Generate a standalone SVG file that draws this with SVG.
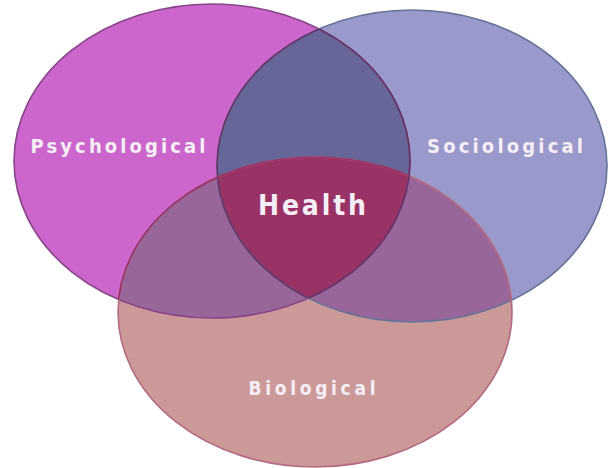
<svg xmlns="http://www.w3.org/2000/svg" width="610" height="468" viewBox="0 0 610 468">
<style>
.lbl{font-family:"DejaVu Sans Condensed","DejaVu Sans","Verdana",sans-serif;font-weight:bold;fill:#F6EEF6;text-anchor:middle}
.edge{fill:none;stroke-width:1.6}
</style>
<defs>
<ellipse id="eP" cx="212" cy="161" rx="198" ry="157"/>
<ellipse id="eS" cx="412" cy="166" rx="195" ry="156"/>
<ellipse id="eB" cx="315" cy="312" rx="197" ry="155"/>
<clipPath id="cP"><use href="#eP"/></clipPath>
<clipPath id="cS"><use href="#eS"/></clipPath>
</defs>
<rect width="610" height="468" fill="#ffffff"/>
<g id="psychological">
<use href="#eP" fill="#CC66CC"/>
</g>
<g id="sociological">
<use href="#eS" fill="#9999CC"/>
</g>
<g id="biological">
<use href="#eB" fill="#CC9999"/>
</g>
<g id="overlaps">
<use href="#eS" fill="#666699" clip-path="url(#cP)"/>
<use href="#eB" fill="#996699" clip-path="url(#cP)"/>
<use href="#eB" fill="#996699" clip-path="url(#cS)"/>
<g clip-path="url(#cP)"><use href="#eB" fill="#993366" clip-path="url(#cS)"/></g>
</g>
<g id="connectors">
<use href="#eP" class="edge" stroke="#884488"/>
<use href="#eS" class="edge" stroke="#667399"/>
<use href="#eB" class="edge" stroke="#B46A80"/>
<g clip-path="url(#cS)"><use href="#eP" class="edge" stroke="#663366"/></g>
<g clip-path="url(#cP)"><use href="#eS" class="edge" stroke="#663366"/></g>
<g clip-path="url(#cP)"><use href="#eB" class="edge" stroke="#993366"/></g>
</g>
<g id="labels">
<text class="lbl" x="118" y="153" font-size="20" textLength="175" lengthAdjust="spacing">Psychological</text>
<text class="lbl" x="505" y="153" font-size="20" textLength="156" lengthAdjust="spacing">Sociological</text>
<text class="lbl" x="312" y="215" font-size="28" textLength="108" lengthAdjust="spacing">Health</text>
<text class="lbl" x="312" y="395" font-size="19" textLength="127" lengthAdjust="spacing">Biological</text>
</g>
</svg>
